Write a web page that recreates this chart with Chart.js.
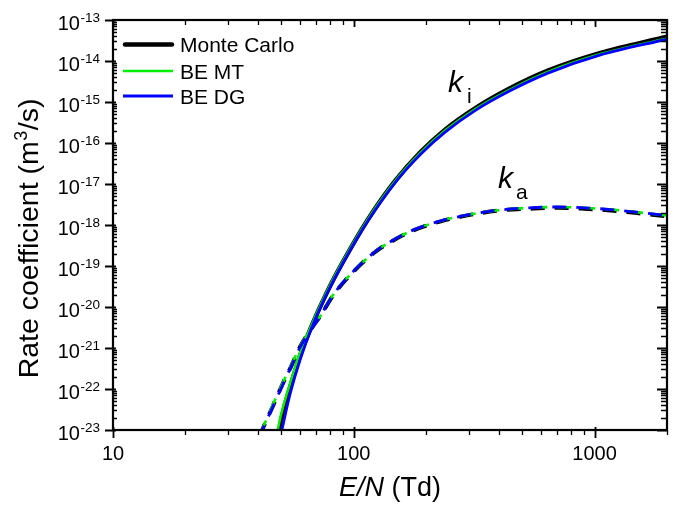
<!DOCTYPE html>
<html>
<head>
<meta charset="utf-8">
<script src="https://cdn.jsdelivr.net/npm/chart.js@4.4.1/dist/chart.umd.min.js"></script>
<style>
  html, body { margin: 0; padding: 0; background: #ffffff; }
  #wrap { width: 676px; height: 509px; }
</style>
</head>
<body>
<div id="wrap"><canvas id="c" width="676" height="509"></canvas></div>
<script>
// ---- Rate coefficients (m^3/s) versus reduced field E/N (Td) ----

// Ionization rate coefficient k_i
const kiE_MC = [48.5, 50, 54.45, 59.9, 67, 77.4, 90.4, 113.8, 148.8, 189, 240.2, 320.1, 447.6, 643.8, 1059, 2000];
const ki_MC  = [6.3e-24, 1.78e-23, 1.12e-22, 6.6e-22, 3.55e-21, 2.29e-20, 1.29e-19, 1.29e-18, 1.2e-17, 5.9e-17, 2.14e-16, 7.1e-16, 2.19e-15, 5.9e-15, 1.58e-14, 3.9e-14];

const kiE_MT = [47.5, 50, 54.45, 59.9, 67, 77.4, 90.4, 113.8, 148.8, 189, 240.2, 320.1, 447.6, 643.8, 1059, 2000];
const ki_MT  = [6.3e-24, 2.51e-23, 1.41e-22, 7.94e-22, 3.8e-21, 2.4e-20, 1.35e-19, 1.32e-18, 1.2e-17, 5.75e-17, 2.04e-16, 6.76e-16, 2.04e-15, 5.5e-15, 1.48e-14, 3.55e-14];

const kiE_DG = [49.5, 54.45, 59.9, 67, 77.4, 90.4, 113.8, 148.8, 189, 240.2, 320.1, 447.6, 643.8, 1059, 2000];
const ki_DG  = [6.6e-24, 7.76e-23, 5.25e-22, 3.2e-21, 2.14e-20, 1.22e-19, 1.2e-18, 1.1e-17, 5.25e-17, 1.86e-16, 6.24e-16, 1.9e-15, 5.13e-15, 1.41e-14, 3.4e-14];

// Attachment rate coefficient k_a
const kaE_MC = [40.5, 46, 51, 55, 60, 67, 73, 82, 100, 124, 150, 177, 230, 300, 400, 540, 700, 900, 1200, 1500, 2000];
const ka_MC  = [7.0e-24, 3.7e-23, 1.45e-22, 3.63e-22, 1.1e-21, 3.1e-21, 6.3e-21, 1.9e-20, 7.4e-20, 2.3e-19, 4.6e-19, 7.4e-19, 1.23e-18, 1.74e-18, 2.25e-18, 2.5e-18, 2.63e-18, 2.5e-18, 2.24e-18, 1.95e-18, 1.62e-18];

const kaE_MT = [40.5, 46, 51, 55, 60, 67, 73, 82, 100, 124, 150, 177, 230, 300, 400, 540, 700, 900, 1200, 1500, 2000];
const ka_MT  = [7.0e-24, 4.0e-23, 1.51e-22, 3.8e-22, 1.12e-21, 3.16e-21, 6.3e-21, 1.95e-20, 7.6e-20, 2.35e-19, 4.7e-19, 7.6e-19, 1.26e-18, 1.78e-18, 2.3e-18, 2.63e-18, 2.75e-18, 2.63e-18, 2.35e-18, 2.05e-18, 1.7e-18];

const kaE_DG = [40.5, 46, 51, 55, 60, 67, 73, 82, 100, 124, 150, 177, 230, 300, 400, 540, 700, 900, 1200, 1500, 2000];
const ka_DG  = [7.0e-24, 3.55e-23, 1.38e-22, 3.55e-22, 1.07e-21, 3.0e-21, 6.3e-21, 1.95e-20, 7.6e-20, 2.35e-19, 4.7e-19, 7.6e-19, 1.26e-18, 1.78e-18, 2.3e-18, 2.63e-18, 2.75e-18, 2.63e-18, 2.35e-18, 2.05e-18, 1.7e-18];

// Series names and axis ticks
const seriesNames = ['Monte Carlo', 'BE MT', 'BE DG'];
const xMajorTicks = [10, 100, 1000];
const xMinorTicks = [20, 30, 40, 50, 60, 70, 80, 90, 200, 300, 400, 500, 600, 700, 800, 900, 2000];
const yMajorExps  = [-13, -14, -15, -16, -17, -18, -19, -20, -21, -22, -23];
const yMinorMult  = [2, 3, 4, 5, 6, 7, 8, 9];

const FONT = '"Liberation Sans", Arial, Helvetica, sans-serif';
const COLORS = ['#000000', '#00ee00', '#0000ff'];
const WIDTHS = [4.5, 2.5, 2.8];
const DASH_WIDTHS = [4, 2.6, 2.8];
const DASH_OFFSETS = [0, -3, 2];

function pts(xs, ys) { return xs.map((x, i) => ({ x: x, y: ys[i] })); }

function line(label, xs, ys, idx, dashed) {
  return {
    label: label,
    data: pts(xs, ys),
    borderColor: COLORS[idx],
    backgroundColor: COLORS[idx],
    borderWidth: dashed ? DASH_WIDTHS[idx] : WIDTHS[idx],
    borderDash: dashed ? [14, 10] : [],
    borderDashOffset: dashed ? DASH_OFFSETS[idx] : 0,
    pointRadius: 0,
    fill: false,
    showLine: true,
    cubicInterpolationMode: 'monotone',
    order: 3 - idx
  };
}

const datasets = [
  line(seriesNames[0], kiE_MC, ki_MC, 0, false),
  line(seriesNames[1], kiE_MT, ki_MT, 1, false),
  line(seriesNames[2], kiE_DG, ki_DG, 2, false),
  line(seriesNames[0], kaE_MC, ka_MC, 0, true),
  line(seriesNames[1], kaE_MT, ka_MT, 1, true),
  line(seriesNames[2], kaE_DG, ka_DG, 2, true)
];

// Frame, ticks, labels, titles, legend and curve annotations
const decorations = {
  id: 'decorations',
  afterDraw(chart) {
    const ctx = chart.ctx;
    const xs = chart.scales.x, ys = chart.scales.y;
    const a = chart.chartArea;
    const L = a.left, R = a.right, T = a.top, B = a.bottom;
    ctx.save();
    ctx.strokeStyle = '#000';
    ctx.fillStyle = '#000';

    // ticks
    ctx.lineCap = 'butt';
    ctx.lineWidth = 1.8;
    ctx.beginPath();
    xMajorTicks.forEach(v => {
      const x = Math.round(xs.getPixelForValue(v)) + 0.5;
      ctx.moveTo(x, B - 3); ctx.lineTo(x, B + 8);
      ctx.moveTo(x, T); ctx.lineTo(x, T + 7);
    });
    yMajorExps.forEach(n => {
      const y = Math.round(ys.getPixelForValue(Math.pow(10, n))) + 0.5;
      ctx.moveTo(L - 8, y); ctx.lineTo(L + 3, y);
      ctx.moveTo(R, y); ctx.lineTo(R - 10, y);
    });
    ctx.stroke();

    ctx.lineWidth = 1.3;
    ctx.beginPath();
    xMinorTicks.forEach(v => {
      const x = Math.round(xs.getPixelForValue(v)) + 0.5;
      ctx.moveTo(x, B); ctx.lineTo(x, B + 5);
      ctx.moveTo(x, T); ctx.lineTo(x, T + 5);
    });
    for (let n = -23; n < -13; n++) {
      yMinorMult.forEach(m => {
        const y = Math.round(ys.getPixelForValue(m * Math.pow(10, n))) + 0.5;
        ctx.moveTo(L, y); ctx.lineTo(L + 4, y);
        ctx.moveTo(R, y); ctx.lineTo(R - 6, y);
      });
    }
    ctx.stroke();

    // frame
    ctx.lineWidth = 2.2;
    ctx.strokeRect(L, T, R - L, B - T);

    // x tick labels
    ctx.font = '20px ' + FONT;
    ctx.textAlign = 'center';
    ctx.textBaseline = 'alphabetic';
    xMajorTicks.forEach(v => {
      ctx.fillText(String(v), xs.getPixelForValue(v), B + 30);
    });

    // y tick labels: 10 with superscript exponent
    ctx.textAlign = 'left';
    yMajorExps.forEach(n => {
      const y = ys.getPixelForValue(Math.pow(10, n));
      const sup = String(n);
      ctx.font = '13.5px ' + FONT;
      const wSup = ctx.measureText(sup).width;
      ctx.font = '20px ' + FONT;
      const wBase = ctx.measureText('10').width;
      const xSup = L - 13 - wSup;
      ctx.fillText('10', xSup - wBase - 0.5, y + 9.5);
      ctx.font = '13.5px ' + FONT;
      ctx.fillText(sup, xSup, y + 1.5);
    });

    // x axis title: E/N (Td)
    {
      const f1 = 'italic 27px ' + FONT, f2 = '27px ' + FONT;
      ctx.font = f1; const w1 = ctx.measureText('E/N').width;
      ctx.font = f2; const w2 = ctx.measureText(' (Td)').width;
      const x0 = (L + R) / 2 - (w1 + w2) / 2;
      const yb = 496;
      ctx.font = f1; ctx.fillText('E/N', x0, yb);
      ctx.font = f2; ctx.fillText(' (Td)', x0 + w1, yb);
    }

    // y axis title: Rate coefficient (m3/s)
    {
      ctx.save();
      ctx.translate(37.5, 239);
      ctx.rotate(-Math.PI / 2);
      const f = '28.5px ' + FONT, fs = '18px ' + FONT;
      const p1 = 'Rate coefficient (m', p2 = '3', p3 = '/s)';
      ctx.font = f; const w1 = ctx.measureText(p1).width, w3 = ctx.measureText(p3).width;
      ctx.font = fs; const w2 = ctx.measureText(p2).width;
      let x = -(w1 + w2 + w3) / 2;
      ctx.font = f; ctx.fillText(p1, x, 0); x += w1;
      ctx.font = fs; ctx.fillText(p2, x + 0.5, -11); x += w2 + 1;
      ctx.font = f; ctx.fillText(p3, x, 0);
      ctx.restore();
    }

    // curve annotations
    ctx.font = 'italic 30px ' + FONT;
    ctx.fillText('k', 448, 92);
    ctx.font = '21px ' + FONT;
    ctx.fillText('i', 467, 103);
    ctx.font = 'italic 30px ' + FONT;
    ctx.fillText('k', 498, 188);
    ctx.font = '21px ' + FONT;
    ctx.fillText('a', 516, 199);

    // legend
    const legendY = [44.5, 71, 96];
    for (let i = 0; i < 3; i++) {
      const y = legendY[i];
      ctx.strokeStyle = COLORS[i];
      ctx.lineWidth = WIDTHS[i];
      ctx.lineCap = i === 0 ? 'round' : 'butt';
      ctx.beginPath();
      if (i === 0) { ctx.moveTo(125, y); ctx.lineTo(172, y); }
      else { ctx.moveTo(123, y); ctx.lineTo(173, y); }
      ctx.stroke();
      ctx.fillStyle = '#000';
      ctx.font = '21px ' + FONT;
      ctx.fillText(seriesNames[i], 180, y + 7.5);
    }
    ctx.restore();
  }
};

new Chart(document.getElementById('c'), {
  type: 'scatter',
  data: { datasets: datasets },
  options: {
    responsive: false,
    devicePixelRatio: 1,
    animation: false,
    layout: { padding: { left: 113, right: 9, top: 20, bottom: 79 } },
    scales: {
      x: { type: 'logarithmic', min: 10, max: 2000, display: false },
      y: { type: 'logarithmic', min: 1e-23, max: 1e-13, display: false }
    },
    plugins: {
      legend: { display: false },
      tooltip: { enabled: false }
    }
  },
  plugins: [decorations]
});
</script>
</body>
</html>
